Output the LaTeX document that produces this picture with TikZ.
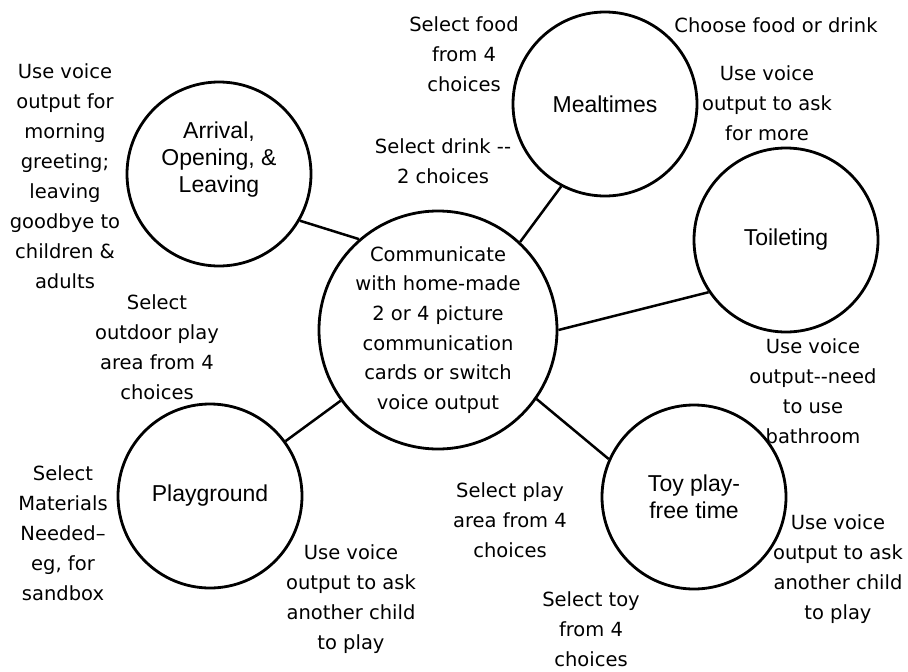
\documentclass[tikz,border=0pt]{standalone}
\usepackage{fontspec}
\setmainfont{DejaVu Sans}
\newfontfamily\arialfont{Liberation Sans}
\usepackage{tikz}

\begin{document}
\begin{tikzpicture}[x=1pt, y=-1pt,
    activity/.style={circle, draw, line width=2.8pt, minimum size=184pt, inner sep=0pt},
    title/.style={font=\arialfont\fontsize{23}{27}\selectfont, align=center},
    note/.style={font=\fontsize{19.5}{30}\selectfont, align=center, inner sep=0pt},
    link/.style={line width=2.5pt}]
  \useasboundingbox (0,0) rectangle (908,672);

  % hub and the five routines
  \node (hub) [activity, minimum size=238pt, note, font=\fontsize{19.5}{29.6}\selectfont] at (438,330)
    {Communicate\\with home-made\\2 or 4 picture\\communication\\cards or switch\\voice output};
  \node (arrival) [activity] at (219,174) {};
  \node (arrivaltext) [title] at ([yshift=14pt]arrival.center) {Arrival,\\Opening, \&\\Leaving};
  \node (meal) [activity, title] at (605,104) {Mealtimes};
  \node (toilet) [activity, title] at (786,240) {Toileting};
  \node (play) [activity, title] at (210,496) {Playground};
  \node (toy) [activity, title] at (694,497) {Toy play-\\free time};

  \draw [link] (arrival.-30) -- (hub.131);
  \draw [link] (meal.242) -- (hub.47);
  \draw [link] (toilet.214) -- (hub.0);
  \draw [link] (play.36) -- (hub.216);
  \draw [link] (toy.156) -- (hub.-35);

  % notes
  \node (greet) [note] at (65,176) {Use voice\\output for\\morning\\greeting;\\leaving\\goodbye to\\children \&\\adults};
  \node (food) [note] at (464,54) {Select food\\from 4\\choices};
  \node (drink) [note] at (443,161) {Select drink -{}-\\2 choices};
  \node (choose) [note] at (776,25) {Choose food or drink};
  \node (more) [note] at (767,103) {Use voice\\output to ask\\for more};
  \node (outdoor) [note] at (157,347) {Select\\outdoor play\\area from 4\\choices};
  \node (materials) [note] at (63,533) {Select\\Materials\\Needed–\\eg, for\\sandbox};
  \node (askplay) [note] at (351,599) {Use voice\\output to ask\\another child\\to play};
  \node (area) [note] at (510,520) {Select play\\area from 4\\choices};
  \node (pick) [note] at (591,629) {Select toy\\from 4\\choices};
  \node (bathroom) [note] at (813,391) {Use voice\\output-{}-need\\to use\\bathroom};
  \node (askchild) [note] at (838,569) {Use voice\\output to ask\\another child\\to play};
\end{tikzpicture}
\end{document}
